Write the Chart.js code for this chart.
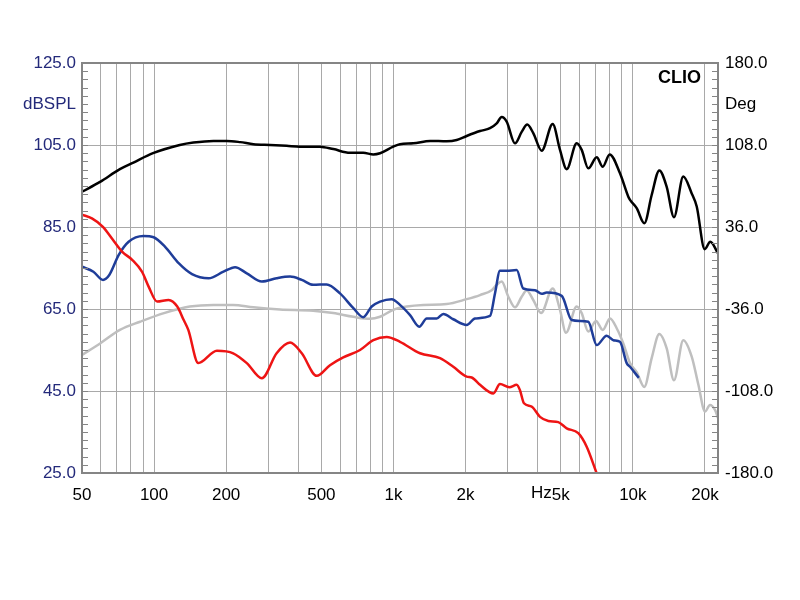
<!DOCTYPE html>
<html>
<head>
<meta charset="utf-8">
<title>CLIO response</title>
<script src="https://cdn.jsdelivr.net/npm/chart.js@4.4.0/dist/chart.umd.min.js"></script>
<style>
  html, body { margin: 0; padding: 0; background: #fff; }
  #wrap { width: 800px; height: 600px; }
</style>
</head>
<body>
<div id="wrap"><canvas id="chart"></canvas></div>
<script>
// ==========================
//  CLIO frequency response
// ==========================

// ── AXIS TICKS ───────────────────────────────────────────
const xGrid   = [50, 60, 70, 80, 90, 100, 200, 300, 400, 500, 600, 700, 800, 900,
                 1000, 2000, 3000, 4000, 5000, 6000, 7000, 8000, 9000,
                 10000, 20000];
const xLabelAt   = [50, 100, 200, 500, 1000, 2000, 5000, 10000, 20000];
const xLabelText = ['50', '100', '200', '500', '1k', '2k', '5k', '10k', '20k'];

// ── SERIES (Hz / dB) ─────────────────────────────────────
const blackFreq = [50, 59.5, 72, 82, 99, 128, 146, 177, 201, 229, 260, 305, 358, 407, 493,
  561, 658, 748, 824, 879, 998, 1065, 1210, 1422, 1668, 1837, 2022, 2299, 2531, 2699,
  2832, 2971, 3219, 3432, 3622, 3837, 4161, 4624, 4962, 5292, 5825, 6113, 6514, 7063,
  7482, 8000, 8836, 9572, 9730, 10375, 11166, 11984, 12894, 13846, 14851, 16240, 17613,
  18483, 19950, 21060, 22680];
const blackDb = [93.6, 96.0, 99.1, 100.7, 103.0, 105.0, 105.6, 106.0, 106.0, 105.7, 105.2, 105.0, 104.8, 104.6, 104.6,
  104.0, 103.1, 103.1, 102.7, 103.0, 104.6, 105.2, 105.4, 106.0, 105.9, 106.2, 107.2, 108.4, 109.1, 110.3,
  111.8, 110.7, 105.4, 108.2, 110.0, 107.9, 103.6, 110.1, 103.8, 99.1, 105.4, 103.8, 99.3, 102.0,
  99.7, 102.7, 98.1, 92.4, 91.6, 89.6, 85.9, 92.8, 98.8, 94.8, 87.4, 97.3, 93.2,
  90.0, 79.6, 81.4, 78.6];

const redFreq = [50, 55, 61, 66.7, 73.5, 81, 89, 95, 103, 115, 125, 133, 139, 153, 183, 214,
  244, 282, 325, 370, 414, 478, 543, 617, 725, 824, 937, 1065, 1291, 1565, 1778, 2022,
  2122, 2299, 2613, 2786, 3047, 3272, 3376, 3509, 3778, 4093, 4435, 4880, 5292, 5916,
  6414, 7063];
const redDb = [88.0, 87.1, 85.1, 82.2, 79.0, 77.0, 74.1, 70.4, 66.8, 67.2, 65.6, 62.3, 59.9, 51.8, 54.8, 54.2,
  51.8, 48.1, 54.2, 56.8, 54.2, 48.7, 51.3, 53.2, 55.0, 57.4, 58.2, 57.0, 54.2, 53.0, 50.9, 48.5,
  48.3, 46.5, 44.4, 46.7, 45.9, 46.5, 45.2, 42.0, 41.2, 38.7, 37.7, 37.4, 35.9, 34.7,
  31.4, 24.9];

const blueFreq = [50, 55.8, 61.2, 65, 71.2, 78.3, 90.3, 99.6, 111, 127, 144, 169, 195, 218, 244,
  282, 325, 370, 414, 462, 526, 598, 680, 748, 811, 879, 983, 1065, 1173, 1282, 1377,
  1516, 1615, 1778, 2022, 2191, 2531, 2655, 2786, 2971, 3272, 3485, 3900, 4161, 4367,
  5044, 5552, 6014, 6514, 7063, 7775, 8285, 8836, 9424, 9730, 10590];
const blueDb = [75.3, 74.1, 72.1, 73.3, 78.2, 81.4, 82.8, 82.5, 80.2, 76.1, 73.5, 72.5, 74.1, 75.2, 73.7,
  71.7, 72.5, 72.9, 72.1, 70.9, 71.0, 68.8, 65.2, 63.0, 65.6, 66.8, 67.4, 66.0, 63.5, 60.7, 62.7,
  62.7, 63.8, 62.5, 61.1, 62.7, 63.3, 68.8, 74.3, 74.3, 74.5, 70.0, 69.6, 68.7, 69.0,
  68.2, 62.3, 62.1, 61.9, 56.2, 58.5, 57.4, 57.0, 51.8, 50.9, 48.2];

const grayFreq = [50, 59.5, 72, 87.4, 110, 141, 177, 214, 260, 336, 462, 561, 680, 798, 879,
  998, 1136, 1333, 1668, 2022, 2299, 2572, 2699, 2832, 3018, 3219, 3432, 3600, 3837, 4135,
  4624, 4962, 5256, 5825, 6113, 6514, 7010, 7482, 8030, 8560, 9121, 9730, 10375, 11166,
  11984, 12894, 13846, 14851, 16240, 17613, 18770, 20016, 20998, 22034, 22680];
const grayDb = [53.8, 56.6, 59.9, 61.9, 64.0, 65.6, 66.0, 66.0, 65.4, 64.9, 64.6, 64.0, 63.1, 62.6, 63.1,
  64.8, 65.6, 66.0, 66.2, 67.4, 68.4, 69.6, 70.9, 71.7, 68.0, 65.4, 68.0, 69.5, 67.2, 64.0,
  70.0, 64.8, 59.2, 65.6, 64.0, 59.5, 62.1, 59.9, 62.7, 60.3, 56.6, 51.8, 49.6, 46.0,
  53.0, 58.9, 55.4, 47.6, 57.4, 53.4, 46.6, 40.0, 41.6, 40.4, 38.4];

// ── STYLE ────────────────────────────────────────────────
const NAVY  = '#23297a';
const GRID  = '#a9a9a9';
const FRAME = '#858585';
const FONT  = { family: 'Liberation Sans, Arial, sans-serif', size: 17 };

function pts(freq, db) {
  return freq.map((f, i) => ({ x: f, y: db[i] }));
}

function line(data, color) {
  return {
    data: data,
    borderColor: color,
    borderWidth: 2.5,
    pointRadius: 0,
    cubicInterpolationMode: 'monotone',
    fill: false
  };
}

// ── EXTRA DRAWING: frame, minor ticks, titles ────────────
const decor = {
  id: 'decor',
  afterDraw(chart) {
    const { ctx, chartArea: a, scales } = chart;
    const y = scales.y, x = scales.x;
    ctx.save();

    // minor ticks every 2 dB, inside both edges
    ctx.strokeStyle = FRAME;
    ctx.lineWidth = 1;
    for (let v = 27; v < 125; v += 2) {
      const py = Math.round(y.getPixelForValue(v)) + 0.5;
      ctx.beginPath();
      ctx.moveTo(a.left, py);  ctx.lineTo(a.left + 6, py);
      ctx.moveTo(a.right, py); ctx.lineTo(a.right - 6, py);
      ctx.stroke();
    }

    // frame
    ctx.lineWidth = 2;
    ctx.strokeRect(a.left, a.top, a.right - a.left, a.bottom - a.top);

    // axis titles
    const midY = y.getPixelForValue(115);
    ctx.font = '17px ' + FONT.family;
    ctx.textBaseline = 'middle';
    ctx.fillStyle = NAVY;
    ctx.textAlign = 'right';
    ctx.fillText('dBSPL', a.left - 6, midY);
    ctx.fillStyle = '#000';
    ctx.textAlign = 'left';
    ctx.fillText('Deg', a.right + 7, midY);

    // "Hz" just left of the 5k label
    const w5k = ctx.measureText('5k').width;
    ctx.textAlign = 'right';
    ctx.textBaseline = 'top';
    ctx.fillText('Hz', x.getPixelForValue(5000) - w5k / 2, a.bottom + 12);

    // CLIO mark
    ctx.font = 'bold 18px ' + FONT.family;
    ctx.textBaseline = 'middle';
    ctx.fillText('CLIO', a.right - 17, a.top + 15);

    ctx.restore();
  }
};

// ── CHART ────────────────────────────────────────────────
new Chart(document.getElementById('chart'), {
  type: 'line',
  data: {
    datasets: [
      line(pts(blackFreq, blackDb), '#000000'),
      line(pts(redFreq, redDb), '#ee1414'),
      line(pts(blueFreq, blueDb), '#1f3d99'),
      line(pts(grayFreq, grayDb), '#bfbfbf')
    ]
  },
  options: {
    responsive: true,
    maintainAspectRatio: false,
    animation: false,
    layout: { padding: { top: 63 } },
    plugins: { legend: { display: false }, tooltip: { enabled: false } },
    scales: {
      x: {
        type: 'logarithmic',
        min: 50,
        max: 22680,
        afterBuildTicks: s => { s.ticks = xGrid.map(v => ({ value: v })); },
        afterFit: s => { s.height = 127; },
        ticks: {
          autoSkip: false,
          maxRotation: 0,
          padding: 12,
          color: '#000',
          font: FONT,
          callback: v => {
            const i = xLabelAt.indexOf(v);
            return i >= 0 ? xLabelText[i] : '';
          }
        },
        grid: { color: GRID, lineWidth: 1, drawTicks: false },
        border: { display: false }
      },
      y: {
        position: 'left',
        min: 25,
        max: 125,
        afterFit: s => { s.width = 82; },
        ticks: { stepSize: 20, padding: 6, color: NAVY, font: FONT, callback: v => v.toFixed(1) },
        grid: { color: GRID, lineWidth: 1, drawTicks: false },
        border: { display: false }
      },
      y2: {
        position: 'right',
        min: -180,
        max: 180,
        afterFit: s => { s.width = 82; },
        ticks: { stepSize: 72, padding: 7, color: '#000', font: FONT, callback: v => v.toFixed(1) },
        grid: { drawOnChartArea: false, drawTicks: false },
        border: { display: false }
      }
    }
  },
  plugins: [decor]
});
</script>
</body>
</html>
